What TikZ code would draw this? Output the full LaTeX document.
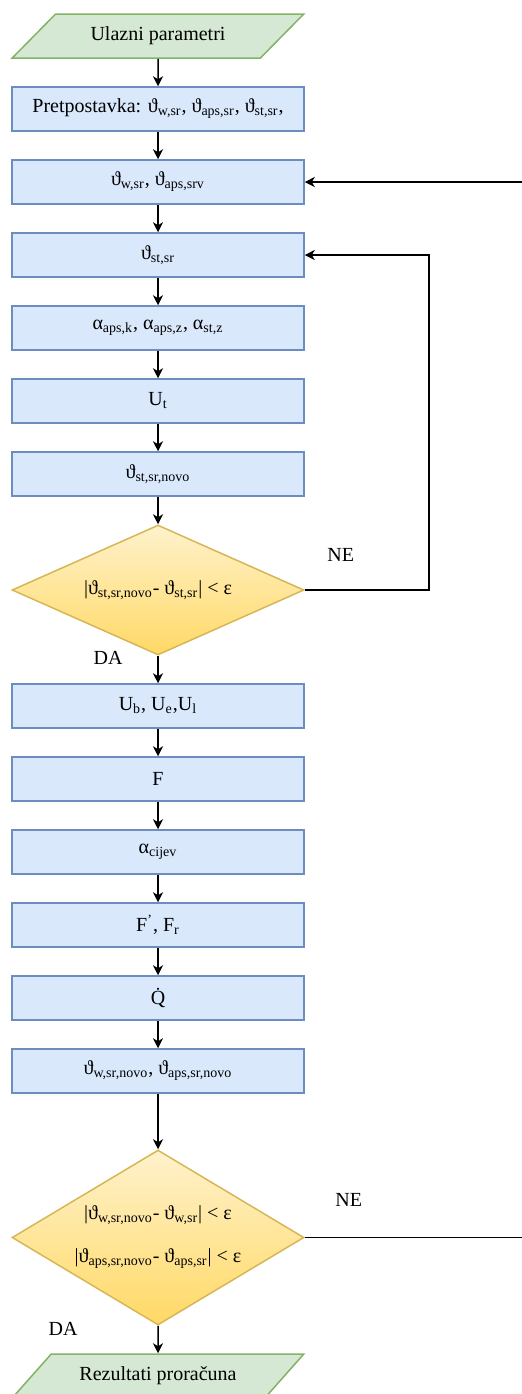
\documentclass[tikz,border=0pt]{standalone}
\usepackage{fontspec}
\setmainfont{Liberation Serif}
\usetikzlibrary{positioning,calc,shapes.geometric,arrows.meta}

\definecolor{boxfill}{HTML}{DAE8FC}
\definecolor{boxline}{HTML}{6C8EBF}
\definecolor{iofill}{HTML}{D5E8D4}
\definecolor{ioline}{HTML}{82B366}
\definecolor{decline}{HTML}{D6B656}
\definecolor{dectop}{HTML}{FFF2CC}
\definecolor{decbottom}{HTML}{FFD966}

\newcommand{\thsub}[1]{ϑ\textsubscript{#1}}
\newcommand{\alsub}[1]{α\textsubscript{#1}}

\begin{document}
\begin{tikzpicture}[
  node distance=13.75pt,
  font=\fontsize{10}{12}\selectfont,
  calcbox/.style={rectangle, draw=boxline, fill=boxfill, line width=0.75pt,
    minimum width=146pt, minimum height=22pt, inner sep=2pt},
  iobox/.style={trapezium, trapezium left angle=37, trapezium right angle=143,
    trapezium stretches=true, draw=ioline, fill=iofill, line width=0.75pt,
    minimum width=146pt, minimum height=22pt, inner sep=1pt},
  decision/.style={diamond, draw=decline, top color=dectop, bottom color=decbottom,
    line width=0.75pt, inner sep=0pt, minimum width=146pt, align=center},
  flow/.style={line width=0.75pt, -{Stealth[length=5pt,width=5pt,inset=1.5pt]}},
  answer/.style={}
]
  \useasboundingbox (0,0) rectangle (260.5pt,-697pt);

  \node (ulaz) [iobox] at (79pt,-18pt) {Ulazni parametri};

  \node (pretp) [calcbox, below=of ulaz] {Pretpostavka: \thsub{w,sr}, \thsub{aps,sr}, \thsub{st,sr},};
  \node (thwaps) [calcbox, below=of pretp] {\thsub{w,sr}, \thsub{aps,srv}};
  \node (thst) [calcbox, below=of thwaps] {\thsub{st,sr}};
  \node (alfa) [calcbox, below=of thst] {\alsub{aps,k}, \alsub{aps,z}, \alsub{st,z}};
  \node (ut) [calcbox, below=of alfa] {U\textsubscript{t}};
  \node (thstnovo) [calcbox, below=of ut] {\thsub{st,sr,novo}};

  \node (dec1) [decision, below=of thstnovo, aspect=2.246, minimum height=65pt]
    {|\thsub{st,sr,novo}- \thsub{st,sr}| < ε};

  \node (ub) [calcbox, below=of dec1] {U\textsubscript{b}, U\textsubscript{e},U\textsubscript{l}};
  \node (f) [calcbox, below=of ub] {F};
  \node (alcij) [calcbox, below=of f] {\alsub{cijev}};
  \node (ffr) [calcbox, below=of alcij] {F\textsuperscript{'}, F\textsubscript{r}};
  \node (q) [calcbox, below=of ffr] {\.{Q}};
  \node (thnovo) [calcbox, below=of q] {\thsub{w,sr,novo}, \thsub{aps,sr,novo}};

  \node (dec2) [decision, below=27.75pt of thnovo, aspect=1.669, minimum height=87.5pt]
    {|\thsub{w,sr,novo}- \thsub{w,sr}| < ε\\[9.5pt]
     |\thsub{aps,sr,novo}- \thsub{aps,sr}| < ε};

  \node (izlaz) [iobox, below=of dec2] {Rezultati proračuna};

  % labels
  \node (ne1) [answer] at ($(dec1.east)+(18pt,17.5pt)$) {NE};
  \node (da1) [answer] at ($(dec1.south)+(-25pt,-1pt)$) {DA};
  \node (ne2) [answer] at ($(dec2.east)+(22pt,18.75pt)$) {NE};
  \node (da2) [answer] at ($(dec2.south)+(-47.5pt,-1.5pt)$) {DA};

  % main flow
  \draw [flow] (ulaz) -- (pretp);
  \draw [flow] (pretp) -- (thwaps);
  \draw [flow] (thwaps) -- (thst);
  \draw [flow] (thst) -- (alfa);
  \draw [flow] (alfa) -- (ut);
  \draw [flow] (ut) -- (thstnovo);
  \draw [flow] (thstnovo) -- (dec1);
  \draw [flow] (dec1) -- (ub);
  \draw [flow] (ub) -- (f);
  \draw [flow] (f) -- (alcij);
  \draw [flow] (alcij) -- (ffr);
  \draw [flow] (ffr) -- (q);
  \draw [flow] (q) -- (thnovo);
  \draw [flow] (thnovo) -- (dec2);
  \draw [flow] (dec2) -- (izlaz);

  % loops back
  \draw [flow] (dec1.east) -- ++(62pt,0) |- (thst.east);
  \draw [flow] (dec2.east) -- ++(112pt,0) |- (thwaps.east);

\end{tikzpicture}
\end{document}
